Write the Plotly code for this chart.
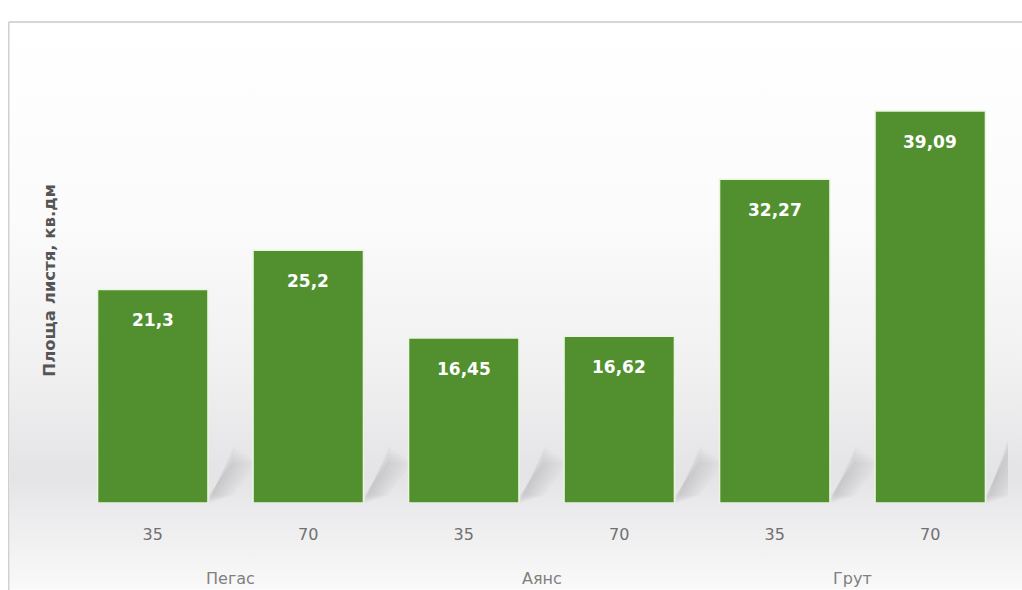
import base64
import plotly.graph_objects as go

# Leaf area by variety and fertiliser dose
varieties = ["Пегас", "Аянс", "Грут"]
doses = ["35", "70"]
leaf_area = [21.3, 25.2, 16.45, 16.62, 32.27, 39.09]

categories = [f"{v} {d}" for v in varieties for d in doses]
tick_text = [d for _ in varieties for d in doses]


def fmt(v):
    s = f"{v:.2f}".rstrip("0").rstrip(".")
    return s.replace(".", ",")


BAR = "#52902f"
FONT = "DejaVu Sans, Verdana, sans-serif"
HALF = 0.355  # half of the bar width in category units

# soft grey backdrop that fades in behind the lower half of the bars
svg = (
    '<svg xmlns="http://www.w3.org/2000/svg" width="100" height="100" preserveAspectRatio="none">'
    '<defs><linearGradient id="g" x1="0" y1="0" x2="0" y2="1">'
    '<stop offset="0" stop-color="#ffffff"/>'
    '<stop offset="0.35" stop-color="#fbfbfb"/>'
    '<stop offset="0.62" stop-color="#f0f0f0"/>'
    '<stop offset="0.80" stop-color="#e4e4e7"/>'
    '<stop offset="0.87" stop-color="#ececee"/>'
    '<stop offset="1" stop-color="#f9f9f9"/>'
    '</linearGradient></defs>'
    '<rect width="100" height="100" fill="url(#g)"/></svg>'
)
bg_src = "data:image/svg+xml;base64," + base64.b64encode(svg.encode()).decode()

fig = go.Figure(
    go.Bar(
        x=categories,
        y=leaf_area,
        marker=dict(color=BAR, line=dict(color="#eaf5e0", width=1.5)),
        width=2 * HALF,
        hoverinfo="skip",
    )
)

# value labels near the top of each bar
for cat, v in zip(categories, leaf_area):
    fig.add_annotation(
        x=cat, y=v, yshift=-31, text=f"<b>{fmt(v)}</b>", showarrow=False,
        font=dict(family=FONT, size=17, color="white"),
    )

# variety names centred under each pair of bars
for i, name in enumerate(varieties):
    fig.add_annotation(
        x=2 * i + 0.5, y=0, yref="y", yshift=-75, text=name, showarrow=False,
        font=dict(family=FONT, size=16, color="#808080"),
    )

fig.add_annotation(
    xref="paper", yref="paper", x=-0.027, y=0.464, xanchor="center", yanchor="middle",
    text="<b>Площа листя, кв.дм</b>", textangle=-90, showarrow=False,
    font=dict(family=FONT, size=16.5, color="#555555"),
)

# soft drop shadows: thin stacked diagonal bands behind each bar's right foot
shadow_shapes = []
for i, v in enumerate(leaf_area):
    x0 = i + HALF
    h = min(v, 7.0 if v > 35 else 5.5)
    for k in range(7):
        w = 0.025 + 0.022 * k
        lift = 0.6 * k
        shadow_shapes.append(dict(
            type="path", xref="x", yref="y", layer="below",
            path=(f"M {x0} {lift * 0.2} L {x0 + w} {lift * 0.2} "
                  f"L {x0 + 0.16 + w} {h - lift * 0.4} L {x0 + 0.16} {h - lift * 0.4} Z"),
            fillcolor="rgba(110,105,125,0.035)", line=dict(width=0),
        ))

fig.update_layout(
    width=1022, height=590,
    margin=dict(l=75, r=14, t=22, b=87),
    paper_bgcolor="white",
    plot_bgcolor="rgba(0,0,0,0)",
    showlegend=False,
    images=[dict(source=bg_src, xref="paper", yref="paper", x=-0.07, y=1.0,
                 sizex=1.09, sizey=1.18, sizing="stretch", layer="below",
                 xanchor="left", yanchor="top")],
    shapes=shadow_shapes + [
        dict(type="line", xref="paper", yref="paper", x0=-0.071, x1=1.02, y0=1, y1=1,
             line=dict(color="#c8c8c8", width=1.5)),
        dict(type="line", xref="paper", yref="paper", x0=-0.071, x1=-0.071, y0=1, y1=-0.2,
             line=dict(color="#d0d0d0", width=1.5)),
    ],
    xaxis=dict(
        type="category", tickvals=categories, ticktext=tick_text, range=[-0.5, 5.5],
        showgrid=False, showline=False, zeroline=False, ticks="",
        ticklabelstandoff=20,
        tickfont=dict(family=FONT, size=16, color="#707070"),
    ),
    yaxis=dict(range=[0, 47.96], visible=False, showgrid=False, zeroline=False),
)

fig.write_html("out.html")
